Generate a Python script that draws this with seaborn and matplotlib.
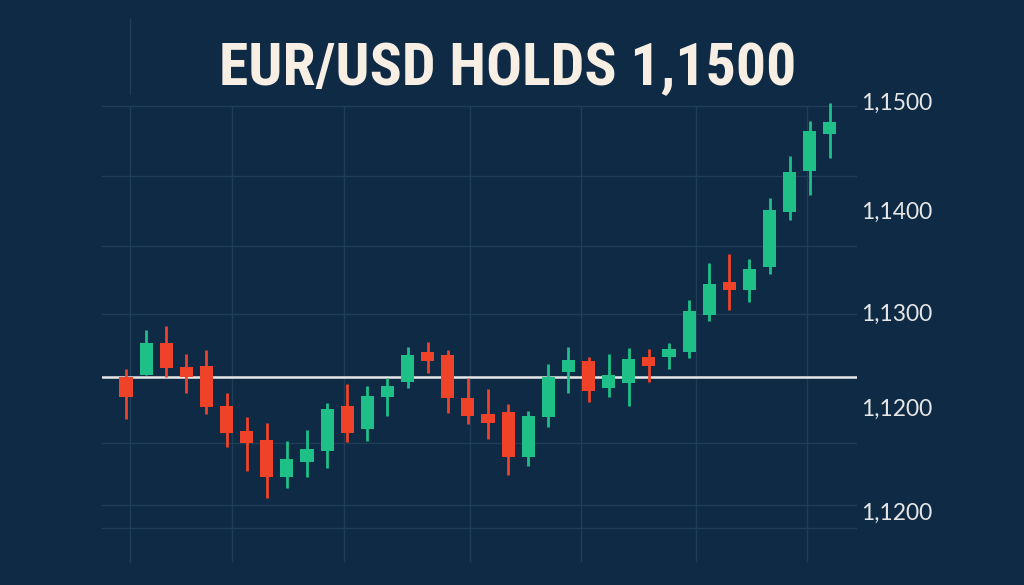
import matplotlib
matplotlib.use("Agg")
import matplotlib.pyplot as plt
import seaborn as sns
import pandas as pd
from matplotlib import font_manager as fm
from matplotlib.lines import Line2D

# ---------------- data ----------------
opens  = [1.12371, 1.12390, 1.12695, 1.12467, 1.12476, 1.12095, 1.11857, 1.11771,
          1.11419, 1.11562, 1.11667, 1.12095, 1.11876, 1.12181, 1.12324, 1.12610,
          1.12581, 1.12171, 1.12019, 1.12038, 1.11610, 1.11990, 1.12419, 1.12524,
          1.12267, 1.12314, 1.12562, 1.12562, 1.12610, 1.12962, 1.13276, 1.13200,
          1.13419, 1.13943, 1.14333, 1.14686]
highs  = [1.12448, 1.12819, 1.12857, 1.12590, 1.12629, 1.12219, 1.11990, 1.11933,
          1.11762, 1.11867, 1.12124, 1.12305, 1.12286, 1.12362, 1.12657, 1.12705,
          1.12629, 1.12362, 1.12257, 1.12114, 1.12048, 1.12495, 1.12657, 1.12562,
          1.12590, 1.12648, 1.12638, 1.12695, 1.13105, 1.13457, 1.13543, 1.13495,
          1.14076, 1.14476, 1.14810, 1.14981]
lows   = [1.11971, 1.12390, 1.12371, 1.12219, 1.12019, 1.11705, 1.11476, 1.11219,
          1.11314, 1.11419, 1.11505, 1.11752, 1.11762, 1.12000, 1.12267, 1.12410,
          1.12029, 1.11924, 1.11781, 1.11438, 1.11524, 1.11895, 1.12219, 1.12133,
          1.12181, 1.12095, 1.12324, 1.12448, 1.12552, 1.12905, 1.13010, 1.13086,
          1.13352, 1.13867, 1.14105, 1.14457]
closes = [1.12181, 1.12695, 1.12457, 1.12371, 1.12086, 1.11838, 1.11743, 1.11419,
          1.11590, 1.11686, 1.12067, 1.11838, 1.12190, 1.12286, 1.12581, 1.12524,
          1.12171, 1.12000, 1.11933, 1.11610, 1.12000, 1.12371, 1.12533, 1.12238,
          1.12390, 1.12543, 1.12476, 1.12638, 1.13000, 1.13257, 1.13200, 1.13400,
          1.13962, 1.14324, 1.14714, 1.14800]
tick_values = [1.1500, 1.1396, 1.1299, 1.1208, 1.1109]
tick_labels = ["1,1500", "1,1400", "1,1300", "1,1200", "1,1200"]
support_level = 1.12371
title_text = "EUR/USD HOLDS 1,1500"

# ---------------- style ----------------
BG = "#0f2a44"
GRID = "#203d58"
GREEN = "#1fbf88"
RED = "#ef4329"
CREAM = "#f7efe3"
LABEL = "#e6e6e6"

sns.set_theme(style="dark", rc={"axes.facecolor": BG, "figure.facecolor": BG})
names = {f.name for f in fm.fontManager.ttflist}
title_font = "DejaVu Sans"
for cand in ["Roboto Condensed", "Liberation Sans Narrow", "DejaVu Sans Condensed",
             "Open Sans Condensed", "Roboto", "Inter"]:
    if cand in names:
        title_font = cand
        break
label_font = "Lato" if "Lato" in names else "DejaVu Sans"
plt.rcParams["font.family"] = [label_font, "DejaVu Sans"]

df = pd.DataFrame({"open": opens, "high": highs, "low": lows, "close": closes})
df["idx"] = range(len(df))
df["up"] = df["close"] >= df["open"]
df["color"] = df["up"].map({True: GREEN, False: RED})
df["bottom"] = df[["open", "close"]].min(axis=1)
df["height"] = (df["close"] - df["open"]).abs().clip(lower=0.00004)

fig = plt.figure(figsize=(10.24, 5.85), dpi=100)
ax = fig.add_axes([102 / 1024, 1 - 562 / 585, 755 / 1024, 467 / 585])
ax.set_facecolor(BG)

ylo, yhi = 1.10610, 1.15057
ax.set_ylim(ylo, yhi)
ax.set_xlim(-1.193, 36.35)

# grid (decoration)
h_grid = [1.14952, 1.14286, 1.13619, 1.12971, 1.11743, 1.11152, 1.10933]
v_grid = [0.2, 5.27, 10.84, 17.11, 22.63, 28.35, 33.86]
for yv in h_grid:
    ax.axhline(yv, color=GRID, lw=1.0, zorder=0)
ax.vlines(v_grid, ylo, 1.14952, color=GRID, lw=1.0, zorder=0)
# first vertical grid line runs up to the top of the picture
fig.add_artist(Line2D([130 / 1024, 130 / 1024], [1 - 562 / 585, 1 - 18 / 585],
                      transform=fig.transFigure, color=GRID, lw=1.0, zorder=0))

# support line
ax.axhline(support_level, color="#e8e8e8", lw=1.8, zorder=1)

# candles
ax.vlines(df["idx"], df["low"], df["high"], colors=df["color"], lw=2.0, zorder=2)
ax.bar(df["idx"], df["height"], bottom=df["bottom"], width=0.65,
       color=df["color"], edgecolor="none", zorder=3)

# axes styling
for s in ax.spines.values():
    s.set_visible(False)
ax.grid(False)
ax.set_xticks([])
ax.yaxis.tick_right()
ax.set_yticks(tick_values)
ax.set_yticklabels(tick_labels)
ax.tick_params(axis="y", length=0, pad=3, labelsize=16.5, labelcolor=LABEL)
ax.set_xlabel("")
ax.set_ylabel("")

title = fig.text(0.496, 1 - 85 / 585, title_text, ha="center", va="baseline",
                 fontsize=43, fontweight="bold", color=CREAM,
                 family=[title_font, "DejaVu Sans"])
# fit title width to the reference (~590 px)
renderer = fig.canvas.get_renderer()
w = title.get_window_extent(renderer=renderer).width
if w > 0:
    title.set_fontsize(min(43, 43 * 590 / w))

fig.savefig("out.png", dpi=100, facecolor=BG)
